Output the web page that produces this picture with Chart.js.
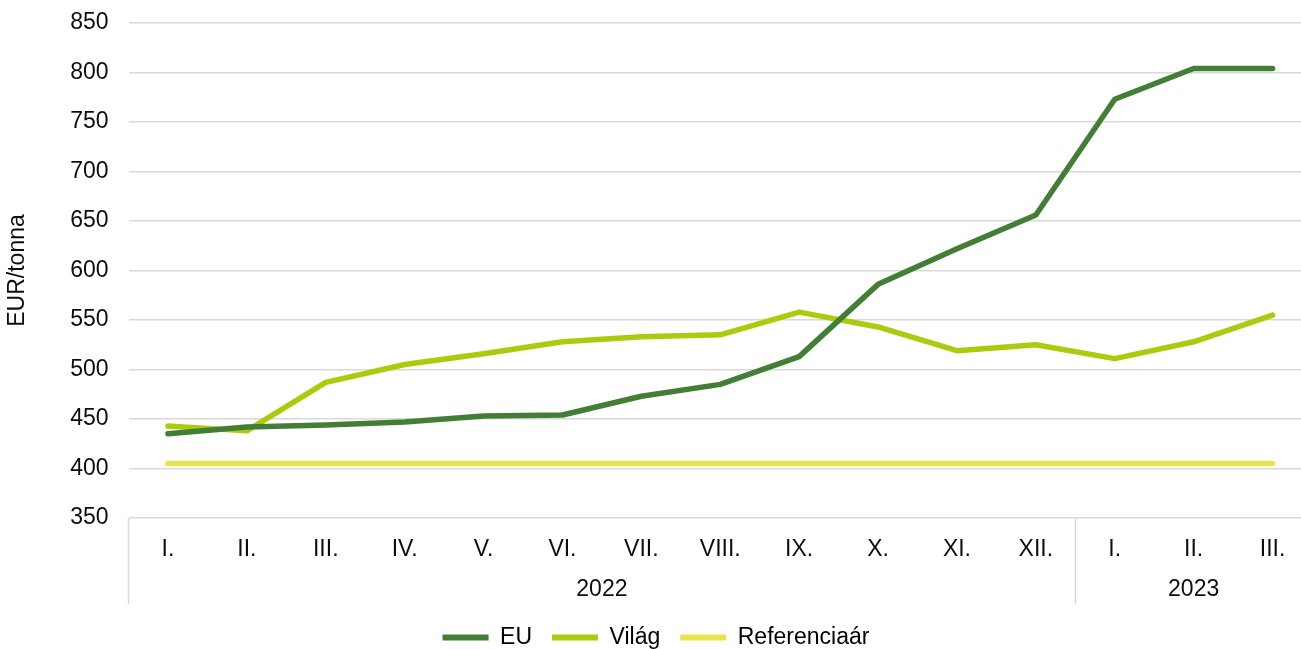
<!DOCTYPE html>
<html>
<head>
<meta charset="utf-8">
<script src="https://cdn.jsdelivr.net/npm/chart.js@4"></script>
<style>
  html, body { margin: 0; padding: 0; background: #fff; overflow: hidden; }
</style>
</head>
<body>
<canvas id="myChart" width="1312" height="649"></canvas>
<script>
const months = ['I.', 'II.', 'III.', 'IV.', 'V.', 'VI.', 'VII.', 'VIII.', 'IX.', 'X.', 'XI.', 'XII.', 'I.', 'II.', 'III.'];
const years = ['2022', '2023'];
const yearCounts = [12, 3];
const euValues = [435, 442, 444, 447, 453, 454, 473, 485, 513, 586, 622, 656, 773, 804, 804];
const vilagValues = [443, 438, 487, 505, 516, 528, 533, 535, 558, 543, 519, 525, 511, 528, 555];
const refValues = [405, 405, 405, 405, 405, 405, 405, 405, 405, 405, 405, 405, 405, 405, 405];
const yTicks = [350, 400, 450, 500, 550, 600, 650, 700, 750, 800, 850];

const fontFamily = "'Liberation Sans', Arial, sans-serif";
const textColor = '#0d0d0d';

// draws the year row and the separator lines under the month labels
const yearRows = {
    id: 'yearRows',
    afterDraw: (chart) => {
        const ctx = chart.ctx;
        const x = chart.scales.x;
        const area = chart.chartArea;
        const half = (x.getPixelForValue(1) - x.getPixelForValue(0)) / 2;
        let start = 0;
        let edges = [x.getPixelForValue(0) - half];
        ctx.save();
        ctx.fillStyle = textColor;
        ctx.font = '23px ' + fontFamily;
        ctx.textAlign = 'center';
        ctx.textBaseline = 'middle';
        for (let i = 0; i < years.length; i++) {
            const end = start + yearCounts[i] - 1;
            const left = x.getPixelForValue(start) - half;
            const right = x.getPixelForValue(end) + half;
            edges.push(right);
            ctx.fillText(years[i], (left + right) / 2, area.bottom + 72);
            start = end + 1;
        }
        ctx.strokeStyle = '#d9d9d9';
        ctx.lineWidth = 1.5;
        edges.forEach((e) => {
            ctx.beginPath();
            ctx.moveTo(Math.round(e) + 0.5, area.bottom);
            ctx.lineTo(Math.round(e) + 0.5, area.bottom + 86);
            ctx.stroke();
        });
        ctx.restore();
    }
};

const makeSet = (label, data, color) => {
    return {
        label: label,
        data: data,
        borderColor: color,
        backgroundColor: color,
        borderWidth: 5.5,
        pointRadius: 0,
        tension: 0,
        borderCapStyle: 'round',
        borderJoinStyle: 'round',
        fill: false
    };
};

const ctx = document.getElementById('myChart').getContext('2d');
const chart = new Chart(ctx, {
    type: 'line',
    data: {
        labels: months,
        datasets: [
            makeSet('EU', euValues, '#437e37'),
            makeSet('Világ', vilagValues, '#accb0e'),
            makeSet('Referenciaár', refValues, '#e5e54f')
        ]
    },
    options: {
        responsive: false,
        animation: false,
        layout: { padding: { top: 23, right: 0, left: 0, bottom: -10 } },
        plugins: {
            tooltip: { enabled: false },
            legend: {
                position: 'bottom',
                labels: {
                    boxWidth: 46,
                    boxHeight: 6,
                    padding: 20,
                    color: textColor,
                    font: { size: 23, family: fontFamily },
                    generateLabels: (ch) => {
                        return ch.data.datasets.map((ds, i) => ({
                            text: ds.label,
                            fillStyle: ds.borderColor,
                            strokeStyle: ds.borderColor,
                            lineWidth: 0,
                            hidden: false,
                            datasetIndex: i
                        }));
                    }
                }
            }
        },
        scales: {
            x: {
                offset: true,
                grid: { display: false, drawTicks: false, offset: true },
                border: { display: false },
                ticks: {
                    padding: 18,
                    color: textColor,
                    maxRotation: 0,
                    autoSkip: false,
                    font: { size: 23, family: fontFamily }
                },
                afterFit: (scale) => { scale.height = 88; }
            },
            y: {
                min: 350,
                max: 850,
                afterBuildTicks: (scale) => {
                    scale.ticks = yTicks.map((v) => ({ value: v }));
                },
                grid: { color: '#d9d9d9', lineWidth: 1.5, drawTicks: false },
                border: { display: false },
                ticks: {
                    padding: 20,
                    color: textColor,
                    font: { size: 23, family: fontFamily }
                },
                title: {
                    display: true,
                    text: 'EUR/tonna',
                    color: textColor,
                    font: { size: 23, family: fontFamily },
                    padding: { top: 4, bottom: 0 }
                },
                afterFit: (scale) => {
                    scale.width = 128.5;
                    scale.paddingTop = 0;
                    scale.paddingBottom = 0;
                }
            }
        }
    },
    plugins: [yearRows]
});
</script>
</body>
</html>
